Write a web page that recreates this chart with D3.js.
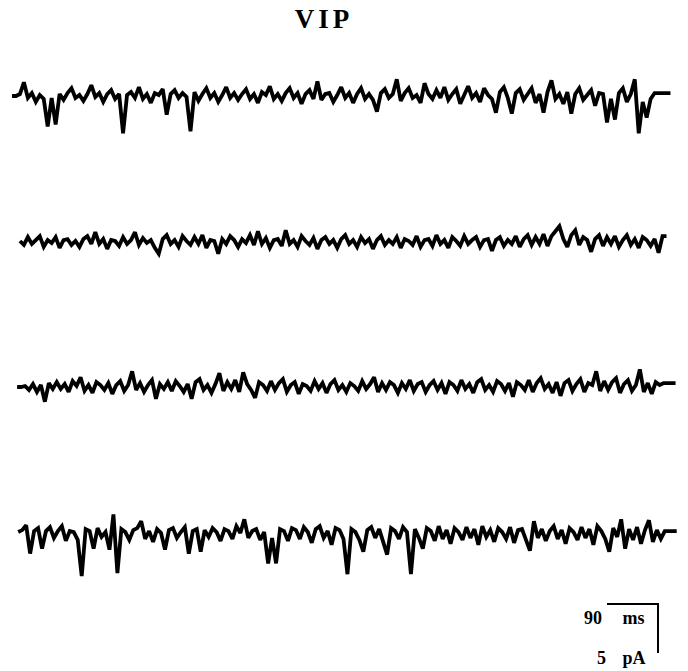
<!DOCTYPE html>
<html lang="en">
<head>
<meta charset="UTF-8">
<title>VIP traces</title>
<script src="https://d3js.org/d3.v7.min.js"></script>
<style>
  body { margin: 0; background: #fff; }
  text { font-family: "Liberation Serif", "DejaVu Serif", serif; fill: #000; }
</style>
</head>
<body>
<svg id="plot" width="688" height="671"></svg>
<script>
// current traces, pA, one sample every 7 ms
const sampleMs = 7;
const traceStartMs = [0, 14, 9, 11];

const trace1 = [
  0.0, 0.0, 0.2, 1.4, -0.2, 0.3, -0.6, 0.1, -0.3, -3.1,
  -0.2, -2.9, 0.2, -0.4, 0.3, 0.8, -0.2, 0.1, -0.5, 0.2,
  1.1, -0.1, 0.3, -0.6, 0.2, 0.6, -0.3, 0.2, -3.8, 0.1,
  0.4, -0.2, 0.9, -0.3, 0.2, -0.7, 0.3, 0.1, 0.7, -1.9,
  0.2, 0.6, -0.2, 0.3, -0.1, -3.6, 0.4, -0.5, 0.2, 0.8,
  -0.2, 0.3, -0.6, 0.1, 0.9, -0.2, 0.3, -0.4, 0.2, 0.7,
  -0.3, 0.2, -0.7, 0.4, 0.1, 1.0, -0.3, 0.2, -0.5, 0.3,
  0.8, -0.2, 0.3, -0.8, 0.2, 0.6, -0.3, 1.5, -0.4, 0.2,
  0.3, -0.6, 0.1, 0.9, -0.2, 0.3, -0.7, 0.2, 0.8, -0.3,
  0.2, -0.4, -1.6, 0.3, 0.7, -0.2, 0.2, 1.7, -0.5, 0.3,
  0.8, -0.2, 0.1, -0.7, 1.3, 0.2, -0.3, 0.6, -0.2, 0.9,
  -0.4, 0.2, 0.7, -0.8, 0.1, 1.0, -0.2, 0.3, -0.6, 0.8,
  0.1, -0.3, -1.7, 0.4, 0.9, -0.2, -1.8, 0.3, 0.7, -0.4,
  0.2, 0.8, -0.7, 0.2, -1.7, 0.4, 1.6, -0.3, 0.2, -0.8,
  0.4, -1.8, 0.2, 0.8, -0.4, 0.1, 0.6, -1.0, 0.3, 0.2,
  -2.7, -0.3, -2.4, 0.3, 0.8, -0.6, 0.2, 1.7, -3.8, -0.6,
  -2.2, -0.3, 0.3, 0.3, 0.3, 0.3, 0.3
];

const trace2 = [
  0.1, -0.3, 0.5, -0.2, 0.2, 0.6, -0.5, 0.2, -0.1, 0.5,
  -0.6, 0.2, 0.3, -0.3, 0.1, -0.5, 0.3, 0.6, -0.2, 1.0,
  -0.2, 0.3, -0.7, 0.2, 0.1, -0.4, 0.5, -0.2, 0.2, 1.0,
  -0.3, 0.4, -0.1, 0.2, -0.6, -1.2, 0.3, 0.7, -0.2, 0.2,
  -0.5, 0.6, 0.1, -0.3, 0.5, -0.2, 0.7, -0.6, 0.2, 0.1,
  -1.2, 0.3, -0.2, 0.6, 0.2, -0.5, 0.3, -0.1, 0.7, -0.3,
  1.1, -0.2, 0.4, -0.6, 0.2, 0.3, -0.4, 1.2, -0.2, 0.2,
  -0.5, 0.6, 0.1, -0.3, 0.4, -0.7, 0.2, 0.5, -0.2, 0.2,
  -0.6, 0.3, 0.7, -0.2, 0.2, -0.5, 0.5, -0.1, 0.3, -0.7,
  0.2, 0.6, -0.3, 0.2, -0.2, 0.5, -0.6, 0.3, 0.1, -0.3,
  0.6, -0.5, 0.2, 0.3, -0.4, 0.7, -0.2, 0.2, -0.6, 0.5,
  0.1, -0.4, 0.6, -0.2, 0.2, 0.5, -0.5, 0.2, 0.3, -0.9,
  0.2, 0.5, -0.4, 0.2, -0.2, 0.6, -0.5, 0.3, 0.7, -0.3,
  0.5, -0.2, 0.8, -0.4, 0.6, 1.1, 1.6, 0.3, -0.5, 0.7,
  1.2, -0.3, 0.5, 0.2, -1.0, 0.3, 0.7, -0.4, 0.5, -0.2,
  0.6, -0.5, 0.2, 0.7, -0.3, 0.3, -0.6, 0.5, 0.2, -0.4,
  0.3, -1.1, 0.6, 0.6
];

const trace3 = [
  0.0, 0.0, 0.1, -0.3, 0.3, -0.5, 0.2, -1.5, 0.4, -0.2,
  0.5, -0.2, 0.3, -0.5, 0.6, 0.1, 1.0, -0.4, 0.2, -0.6,
  0.5, 0.2, -0.3, 0.4, -0.7, 0.2, 0.6, -0.4, 0.2, 1.6,
  -0.3, 0.4, -0.5, 0.2, 0.7, -1.2, 0.3, -0.2, 0.5, -0.4,
  0.6, 0.1, -0.5, 0.3, -1.2, 0.5, 0.8, -0.3, 0.2, -0.6,
  0.3, 1.4, -0.4, 0.5, -0.2, 0.7, -0.5, 1.5, 0.3, -0.3,
  -1.1, 0.5, 0.2, -0.4, 0.6, -0.3, 0.4, 0.8, -0.5, 0.2,
  0.5, -0.7, 0.3, 0.1, -0.4, 0.6, -0.2, 0.4, -0.6, 0.3,
  0.7, -0.3, 0.2, -0.5, 0.4, 0.1, -0.4, 0.6, -0.2, 0.3,
  1.0, -0.5, 0.4, -0.3, 0.5, 0.2, -0.6, 0.4, -0.2, 0.7,
  -0.4, 0.3, 0.5, -0.5, 0.2, 0.6, -0.3, 0.4, -0.7, 0.5,
  0.2, -0.4, 0.7, -0.2, 0.3, -0.6, 0.5, 0.8, -0.3, 0.2,
  -0.5, 0.6, 0.3, -0.4, 0.4, -1.0, 0.5, 0.2, -0.3, 0.7,
  -0.5, 0.4, 0.9, -0.2, 0.3, -0.6, 0.5, -0.9, 0.4, 0.7,
  -0.4, 0.3, 0.8, -0.5, 0.4, 0.2, 1.6, -0.4, 0.6, -0.3,
  0.5, 0.9, -0.6, 0.3, 0.7, -0.4, 0.2, 1.8, -0.5, 0.4,
  -0.7, 0.5, 0.2, 0.4, 0.4, 0.4, 0.4
];

const trace4 = [
  0.2, 0.4, 0.9, -2.0, 0.3, 0.6, -1.5, 0.3, 0.7, -0.4,
  0.3, 0.8, -0.7, 0.3, 0.2, -0.6, -4.3, 0.5, 0.3, -1.5,
  0.6, -0.3, 0.2, -1.6, 2.0, -4.0, 0.5, 0.2, -0.6, 0.4,
  0.6, 1.3, -0.5, 0.3, -0.8, 0.5, 0.1, -1.6, 0.4, 0.6,
  -0.4, 0.2, 0.7, -2.0, 0.3, 0.5, -1.8, 0.4, -0.3, 0.6,
  0.2, -0.7, 0.5, 0.3, -0.5, 0.8, 0.1, 1.5, -0.4, 0.3,
  0.5, -0.6, 0.2, -3.0, -0.4, -3.0, 0.5, 0.3, -0.7, 0.6,
  0.4, -0.5, 0.7, 0.2, -0.9, 0.5, 0.8, -0.4, 0.3, -1.1,
  0.6, 0.4, -0.5, -4.1, 0.5, 0.2, -0.6, -1.8, 0.4, 0.7,
  -0.4, 0.5, -0.8, -2.1, 0.6, 0.3, -0.5, 0.7, 0.2, -4.1,
  0.5, -0.4, -1.5, 0.6, 0.3, -0.7, 0.8, -0.5, 0.4, -1.0,
  0.6, 0.2, -0.6, 0.7, -0.4, 0.5, -1.1, 0.8, -0.3, 0.4,
  -0.8, 0.6, 0.2, -0.5, 0.7, -0.9, 0.4, 0.5, -0.6, -1.7,
  1.3, -0.4, 0.5, -0.7, 0.3, 0.8, -0.5, 0.4, -1.0, 0.6,
  0.2, -0.6, 0.7, -0.4, 0.5, -1.1, 0.8, 0.3, -0.5, -1.8,
  0.6, -0.3, 1.5, -1.5, 0.5, -0.6, 0.7, -1.0, 0.4, 1.4,
  -0.8, 0.4, -0.5, 0.3, 0.3, 0.3, 0.3
];

const traces = [trace1, trace2, trace3, trace4];
const title = "VIP";
const scaleBarMs = 90;
const scaleBarPA = 5;

// layout
const svg = d3.select("#plot");
const baselines = [96, 242, 387, 534];
const pxPerPA = 9.8;

const x = d3.scaleLinear().domain([0, 1170]).range([12, 675]);
const y = d3.scaleLinear().domain([0, 1]).range([0, -pxPerPA]);

const line = d3.line()
    .x(d => x(d.t))
    .y(d => y(d.v));

traces.forEach((tr, k) => {
    const pts = tr.map((v, i) => ({ t: traceStartMs[k] + i * sampleMs, v: v }));
    svg.append("g")
        .attr("transform", `translate(0,${baselines[k]})`)
        .append("path")
        .datum(pts)
        .attr("d", line)
        .attr("fill", "none")
        .attr("stroke", "#000")
        .attr("stroke-width", 3.8)
        .attr("stroke-linejoin", "miter")
        .attr("stroke-miterlimit", 2.5);
});

// title
svg.append("text")
    .attr("x", 324)
    .attr("y", 28)
    .attr("text-anchor", "middle")
    .attr("font-size", 27)
    .attr("font-weight", "bold")
    .attr("letter-spacing", 4)
    .text(title);

// scale bar
const barRight = 658, barTop = 604;
const barW = x(scaleBarMs) - x(0);
const barH = -y(scaleBarPA);
svg.append("path")
    .attr("d", `M${barRight - barW},${barTop}H${barRight}V${barTop + barH}`)
    .attr("fill", "none")
    .attr("stroke", "#000")
    .attr("stroke-width", 2);

svg.append("text")
    .attr("x", 584)
    .attr("y", 624)
    .attr("font-size", 18)
    .attr("font-weight", "bold")
    .attr("word-spacing", 16)
    .text(scaleBarMs + " ms");

svg.append("text")
    .attr("x", 597)
    .attr("y", 664)
    .attr("font-size", 18)
    .attr("font-weight", "bold")
    .attr("word-spacing", 12)
    .text(scaleBarPA + " pA");
</script>
</body>
</html>
